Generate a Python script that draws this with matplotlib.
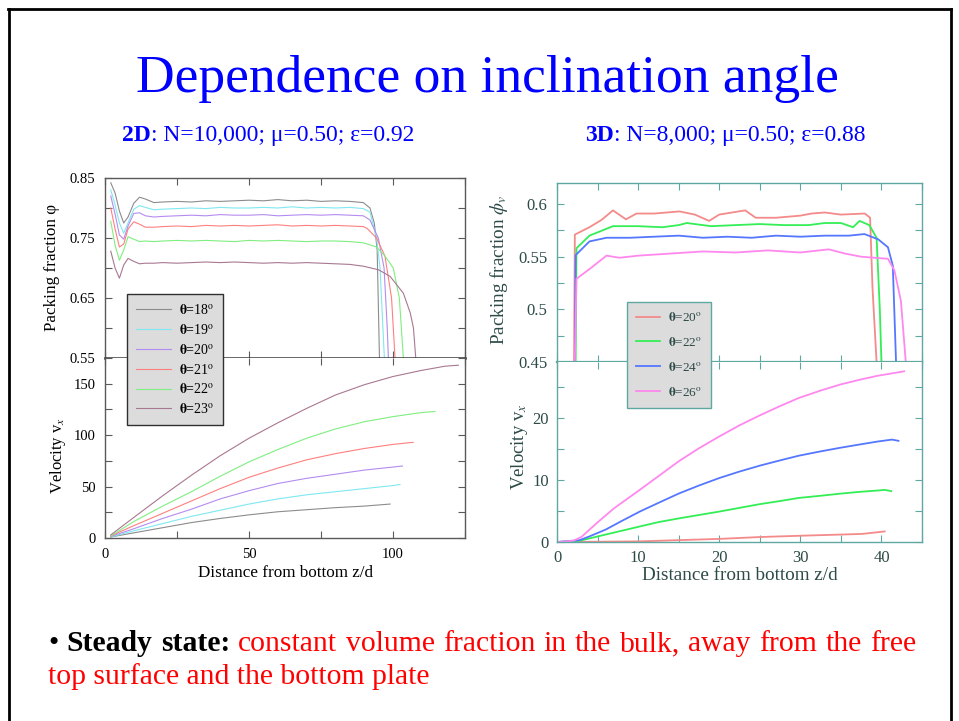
import matplotlib
matplotlib.use("Agg")
import matplotlib.pyplot as plt
from matplotlib.lines import Line2D
from matplotlib.ticker import MultipleLocator

W, H = 959, 721
plt.rcParams['font.family'] = ['Liberation Serif', 'DejaVu Serif']
plt.rcParams['mathtext.fontset'] = 'stix'

# ---- 2D packing fraction (left, top) ----
z_head = [2, 3.5, 5, 6.5, 8, 10, 12, 14, 17, 20, 25, 30, 35, 40, 45, 50, 55, 60, 65, 70, 75, 80, 85]
phi2d_18 = [0.842, 0.825, 0.795, 0.775, 0.785, 0.808, 0.818, 0.815, 0.809, 0.810, 0.811, 0.810, 0.812, 0.811,
            0.812, 0.813, 0.812, 0.814, 0.812, 0.813, 0.811, 0.812, 0.811]
phi2d_19 = [0.830, 0.805, 0.775, 0.758, 0.775, 0.798, 0.804, 0.801, 0.797, 0.798, 0.799, 0.800, 0.799, 0.801,
            0.800, 0.800, 0.801, 0.800, 0.802, 0.800, 0.801, 0.800, 0.801]
phi2d_20 = [0.820, 0.790, 0.755, 0.748, 0.770, 0.791, 0.792, 0.787, 0.785, 0.786, 0.787, 0.788, 0.787, 0.789,
            0.788, 0.788, 0.789, 0.787, 0.788, 0.789, 0.788, 0.789, 0.788]
phi2d_21 = [0.800, 0.765, 0.735, 0.740, 0.765, 0.777, 0.773, 0.768, 0.768, 0.769, 0.770, 0.769, 0.771, 0.770,
            0.771, 0.770, 0.771, 0.772, 0.770, 0.771, 0.770, 0.771, 0.770]
phi2d_22 = [0.778, 0.738, 0.713, 0.730, 0.752, 0.748, 0.744, 0.745, 0.744, 0.745, 0.746, 0.745, 0.746, 0.745,
            0.744, 0.746, 0.745, 0.746, 0.745, 0.744, 0.745, 0.745, 0.744]
phi2d_23 = [0.728, 0.700, 0.683, 0.705, 0.716, 0.711, 0.707, 0.708, 0.708, 0.709, 0.708, 0.709, 0.710, 0.709,
            0.710, 0.709, 0.708, 0.709, 0.708, 0.709, 0.708, 0.707, 0.706]
# free-surface tails
ztail_18 = [89.7, 92, 93.5, 94.5, 95.3]
ptail_18 = [0.809, 0.800, 0.775, 0.73, 0.55]
ztail_19 = [89.7, 92, 94.3, 95.5, 96.3, 97.0]
ptail_19 = [0.799, 0.793, 0.75, 0.70, 0.62, 0.55]
ztail_20 = [89.7, 92, 94.9, 96.9, 98.0, 98.4]
ptail_20 = [0.787, 0.780, 0.75, 0.70, 0.60, 0.55]
ztail_21 = [89.7, 91, 94.3, 97.2, 99.5, 100.7]
ptail_21 = [0.769, 0.766, 0.75, 0.72, 0.65, 0.55]
ztail_22 = [89.7, 94.3, 97.2, 100.1, 102.2, 103.6]
ptail_22 = [0.742, 0.735, 0.72, 0.70, 0.65, 0.55]
ztail_23 = [89.7, 95, 99, 103.6, 106, 107.1, 107.9]
ptail_23 = [0.703, 0.697, 0.686, 0.658, 0.625, 0.60, 0.55]

# ---- 2D velocity (left, bottom) ----
zv2d_18 = [2, 10, 20, 30, 40, 50, 60, 70, 80, 90, 99]
v2d_18 = [1, 5, 10, 15, 19, 22.5, 25.5, 27.5, 29.5, 31, 33]
zv2d_19 = [2, 10, 20, 30, 40, 50, 60, 70, 80, 90, 100, 102.4]
v2d_19 = [1, 7, 14, 21, 27, 33, 38, 42, 45, 48, 51, 52]
zv2d_20 = [2, 10, 20, 30, 40, 50, 60, 70, 80, 90, 100, 103.3]
v2d_20 = [1.5, 9, 19, 28, 38, 46, 53, 58, 62, 66, 69, 70]
zv2d_21 = [2, 10, 20, 30, 40, 50, 60, 70, 80, 90, 100, 107]
v2d_21 = [2, 12, 24, 36, 48, 59, 68, 76, 82, 87, 91, 93]
zv2d_22 = [2, 10, 20, 30, 40, 50, 60, 70, 80, 90, 100, 110, 114.6]
v2d_22 = [2, 16, 31, 45, 60, 74, 86, 97, 106, 113, 118, 122, 123]
zv2d_23 = [2, 10, 20, 30, 40, 50, 60, 70, 80, 90, 100, 110, 118, 122.7]
v2d_23 = [3, 20, 41, 61, 80, 97, 112, 126, 139, 149, 157, 163, 167, 168]

angles_2d = [18, 19, 20, 21, 22, 23]
colors_2d = ['#8c8c8c', '#7fe8f0', '#b48cf0', '#ff7f7f', '#80ee80', '#a87890']

# ---- 3D packing fraction (right, top) ----
z3_20 = [2.1, 2.2, 4, 5.5, 6.9, 8.5, 9.8, 12, 15.1, 17, 18.75, 20, 23.2, 24.5, 27, 30, 31.4, 33, 35,
         37.95, 38.6, 38.9, 39.4]
p3_20 = [0.45, 0.571, 0.578, 0.585, 0.594, 0.5855, 0.591, 0.591, 0.593, 0.590, 0.584, 0.590, 0.594, 0.587,
         0.587, 0.589, 0.591, 0.592, 0.590, 0.591, 0.587, 0.52, 0.45]
z3_22 = [2.3, 2.4, 4, 6.9, 10, 13, 15, 16, 19, 22, 25, 28, 31, 33, 35, 36.5, 37.3, 38.5, 39.4, 39.8, 40.0]
p3_22 = [0.45, 0.558, 0.570, 0.579, 0.579, 0.578, 0.580, 0.582, 0.579, 0.580, 0.581, 0.580, 0.580, 0.582,
         0.582, 0.578, 0.584, 0.580, 0.568, 0.50, 0.45]
z3_24 = [2.2, 2.3, 4.0, 6.1, 9, 12, 15, 18, 21, 24, 27, 30, 33, 36, 37.9, 39.6, 40.8, 41.4, 41.8]
p3_24 = [0.45, 0.5515, 0.5645, 0.568, 0.568, 0.569, 0.570, 0.568, 0.569, 0.568, 0.570, 0.569, 0.570, 0.570,
         0.5715, 0.5665, 0.559, 0.5415, 0.45]
z3_26 = [2.2, 2.4, 4.3, 6.1, 7.7, 10, 14, 18, 22, 26, 30, 33.5, 35.5, 37.5, 40.8, 41.6, 42.4, 43.0]
p3_26 = [0.45, 0.529, 0.540, 0.551, 0.549, 0.551, 0.553, 0.555, 0.554, 0.556, 0.554, 0.557, 0.553, 0.550,
         0.548, 0.537, 0.508, 0.45]

# ---- 3D velocity (right, bottom) ----
zv3_20 = [0, 10.2, 15, 20, 25, 29.8, 35, 37.6, 40.4]
v3_20 = [0, 0.1, 0.3, 0.5, 0.8, 1.0, 1.2, 1.3, 1.7]
zv3_22 = [0, 2.8, 6, 10.2, 12.5, 15, 17.5, 20, 22.5, 25, 27.5, 29.8, 32.5, 35, 37.5, 39.6, 40.4, 41.2]
v3_22 = [0, 0.2, 1.2, 2.5, 3.2, 3.8, 4.35, 4.9, 5.5, 6.1, 6.6, 7.1, 7.45, 7.8, 8.1, 8.3, 8.4, 8.2]
zv3_24 = [0, 2.8, 4, 6, 8, 10.2, 12.5, 15, 17.5, 20, 22.5, 25, 27.5, 29.8, 32.5, 35, 37.5, 39.6, 41.3, 42.1]
v3_24 = [0, 0.3, 0.9, 2.0, 3.4, 4.9, 6.3, 7.8, 9.1, 10.3, 11.35, 12.3, 13.15, 13.9, 14.6, 15.2, 15.75,
         16.2, 16.5, 16.3]
zv3_26 = [0, 2, 3, 4.86, 7, 10.2, 12.5, 15, 17.5, 20, 22.5, 25, 27.5, 29.8, 32.5, 35, 37.5, 39.6, 41, 42.8]
v3_26 = [0, 0.2, 0.8, 3.0, 5.4, 8.4, 10.6, 13.0, 15.1, 17.0, 18.8, 20.4, 21.9, 23.2, 24.4, 25.4, 26.2,
         26.8, 27.1, 27.5]

angles_3d = [20, 22, 24, 26]
colors_3d = ['#f48a8a', '#33ee55', '#5577ff', '#ff88ee']


def box(x0, y0, x1, y1):
    return [x0 / W, 1 - y1 / H, (x1 - x0) / W, (y1 - y0) / H]


def fx(x):
    return x / W


def fy(y):
    return 1 - y / H


def style(ax, col, tcol, size):
    for s in ax.spines.values():
        s.set_color(col)
        s.set_linewidth(1)
    ax.tick_params(which='both', direction='in', top=True, right=True, color=col,
                   labelcolor=tcol, labelsize=size, length=5, width=0.8)


fig = plt.figure(figsize=(W / 100, H / 100), dpi=100)

# slide frame
fig.add_artist(Line2D([fx(8.5), fx(8.5)], [fy(9), 0], color='black', lw=2))
fig.add_artist(Line2D([fx(8), fx(951)], [fy(9), fy(9)], color='black', lw=2))
fig.add_artist(Line2D([fx(950.5), fx(950.5)], [fy(9), 0], color='black', lw=2))

fig.text(fx(487), fy(92), 'Dependence on inclination angle', color='#0000ff', fontsize=38.5,
         ha='center', va='baseline')

r = fig.canvas.get_renderer()


def runs(items, x, y):
    for s, c, wgt, fs in items:
        t = fig.text(fx(x), fy(y), s, color=c, fontweight=wgt, fontsize=fs, ha='left', va='baseline')
        x += t.get_window_extent(r).width
    return x


runs([('2D', '#0000ff', 'bold', 17), (': N=10,000; \u03bc=0.50; \u03b5=0.92', '#0000ff', 'normal', 17)], 122, 141)
runs([('3D', '#0000ff', 'bold', 17), (': N=8,000; \u03bc=0.50; \u03b5=0.88', '#0000ff', 'normal', 17)], 585, 141)

# ---- left chart ----
lcol = '#5a5a5a'
ax1 = fig.add_axes(box(105, 178, 465, 358))
ax2 = fig.add_axes(box(105, 358, 465, 538))
style(ax1, lcol, 'black', 10.5)
style(ax2, lcol, 'black', 10.5)

heads = [phi2d_18, phi2d_19, phi2d_20, phi2d_21, phi2d_22, phi2d_23]
ztails = [ztail_18, ztail_19, ztail_20, ztail_21, ztail_22, ztail_23]
ptails = [ptail_18, ptail_19, ptail_20, ptail_21, ptail_22, ptail_23]
zvs = [zv2d_18, zv2d_19, zv2d_20, zv2d_21, zv2d_22, zv2d_23]
vs = [v2d_18, v2d_19, v2d_20, v2d_21, v2d_22, v2d_23]
handles = []
for a, c, ph, zt, pt, zv, v in zip(angles_2d, colors_2d, heads, ztails, ptails, zvs, vs):
    ax1.plot(z_head + zt, ph + pt, color=c, lw=0.8)
    ln, = ax2.plot(zv, v, color=c, lw=0.8)
    handles.append(ln)

ax1.set_xlim(0, 125)
ax1.set_ylim(0.55, 0.85)
ax1.set_yticks([0.55, 0.65, 0.75, 0.85])
ax1.set_yticklabels(['0.55', '0.65', '0.75', '0.85'])
ax1.yaxis.set_minor_locator(MultipleLocator(0.05))
ax1.xaxis.set_major_locator(MultipleLocator(25))
ax1.tick_params(labelbottom=False, pad=7)
ax1.spines['bottom'].set_linewidth(1.8)
ax1.spines['bottom'].set_color('#3a3a3a')

ax2.set_xlim(0, 125)
ax2.set_ylim(0, 175)
ax2.set_yticks([0, 50, 100, 150])
ax2.yaxis.set_minor_locator(MultipleLocator(25))
ax2.set_xticks([0, 50, 100])
ax2.xaxis.set_minor_locator(MultipleLocator(25))
ax2.tick_params(pad=7)
ax2.spines['top'].set_visible(False)

fig.text(fx(52), fy(267), 'Packing fraction \u03c6', rotation=90, fontsize=12.3, ha='center', va='center')
fig.text(fx(58), fy(455), r'Velocity v$_x$', rotation=90, fontsize=12, ha='center', va='center')
fig.text(fx(285), fy(573), 'Distance from bottom z/d', fontsize=12.3, ha='center', va='center')

fig.legend(handles, [r'$\mathbf{\theta}$=%d$^{\rm o}$' % a for a in angles_2d],
           loc='upper left', bbox_to_anchor=(fx(127), fy(294)), bbox_transform=fig.transFigure,
           fancybox=False, facecolor='#dcdcdc', edgecolor='#303030', framealpha=1,
           borderaxespad=0, borderpad=0.65, handlelength=2.5, handletextpad=0.6,
           labelspacing=0.42, fontsize=10)

# ---- right chart ----
rcol = '#5fa8a2'
rtxt = '#2c4a48'
ax3 = fig.add_axes(box(557, 183, 922, 362))
ax4 = fig.add_axes(box(557, 362, 922, 542))
style(ax3, rcol, rtxt, 12)
style(ax4, rcol, rtxt, 12)

h3 = []
for c, z, p in zip(colors_3d, [z3_20, z3_22, z3_24, z3_26], [p3_20, p3_22, p3_24, p3_26]):
    ax3.plot(z, p, color=c, lw=1.3)
for c, z, v in zip(colors_3d, [zv3_20, zv3_22, zv3_24, zv3_26], [v3_20, v3_22, v3_24, v3_26]):
    ln, = ax4.plot(z, v, color=c, lw=1.3)
    h3.append(ln)

ax3.set_xlim(0, 45)
ax3.set_ylim(0.45, 0.62)
ax3.set_yticks([0.45, 0.5, 0.55, 0.6])
ax3.set_yticklabels(['0.45', '0.5', '0.55', '0.6'])
ax3.yaxis.set_minor_locator(MultipleLocator(0.025))
ax3.xaxis.set_major_locator(MultipleLocator(5))
ax3.tick_params(labelbottom=False, pad=7)
ax3.spines['bottom'].set_linewidth(1.6)

ax4.set_xlim(0, 45)
ax4.set_ylim(0, 29)
ax4.set_yticks([0, 10, 20])
ax4.yaxis.set_minor_locator(MultipleLocator(5))
ax4.set_xticks([0, 10, 20, 30, 40])
ax4.xaxis.set_minor_locator(MultipleLocator(5))
ax4.tick_params(pad=6)
ax4.spines['top'].set_visible(False)

fig.text(fx(499), fy(270), r'Packing fraction $\phi_v$', rotation=90, fontsize=13.8, color=rtxt,
         ha='center', va='center')
fig.text(fx(520), fy(447), r'Velocity v$_x$', rotation=90, fontsize=13.5, color=rtxt, ha='center', va='center')
fig.text(fx(740), fy(576), 'Distance from bottom z/d', fontsize=13.8, color=rtxt, ha='center', va='center')

fig.legend(h3, [r'$\mathbf{\theta}$=%d$^{\rm o}$' % a for a in angles_3d],
           loc='upper left', bbox_to_anchor=(fx(627), fy(302)), bbox_transform=fig.transFigure,
           fancybox=False, facecolor='#dcdcdc', edgecolor=rcol, framealpha=1,
           borderaxespad=0, borderpad=0.7, handlelength=1.8, handletextpad=0.6,
           labelspacing=0.9, fontsize=9.5, labelcolor=rtxt)

# ---- bullet text ----
fs = 21.3
words1 = [('\u2022', 'black', 'normal'), ('Steady', 'black', 'bold'), ('state:', 'black', 'bold')] + \
         [(w, 'red', 'normal') for w in 'constant volume fraction in the bulk, away from the free'.split()]
arts = []
total = 0
for s, c, wgt in words1:
    t = fig.text(0, fy(651), s, color=c, fontweight=wgt, fontsize=fs, ha='left', va='baseline')
    arts.append(t)
    total += t.get_window_extent(r).width
gap = (916 - 48 - total) / (len(arts) - 1)
x = 48
for t in arts:
    t.set_x(fx(x))
    x += t.get_window_extent(r).width + gap
fig.text(fx(48), fy(684), 'top surface and the bottom plate', color='red', fontsize=fs,
         ha='left', va='baseline')

fig.savefig('out.png', dpi=100)
